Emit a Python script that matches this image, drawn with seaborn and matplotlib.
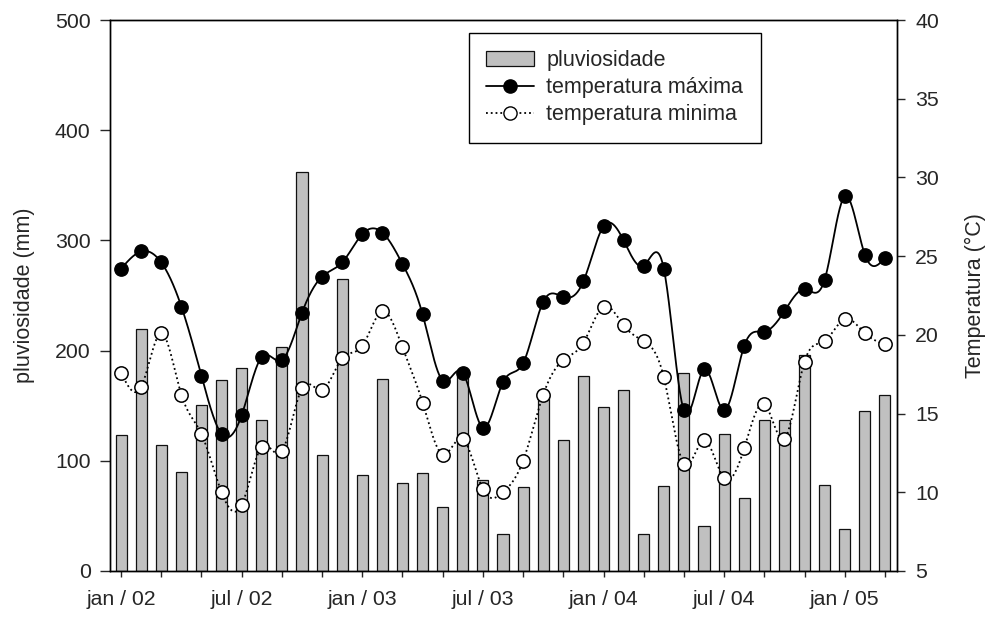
import numpy as np
import matplotlib
matplotlib.use("Agg")
import matplotlib.pyplot as plt
import seaborn as sns
from matplotlib.patches import Patch
from matplotlib.lines import Line2D

# Monthly series, Jan 2002 to Mar 2005
month_idx = list(range(39))

rain_mm = [123, 220, 114, 90, 151, 173, 184, 137, 203, 362, 105, 265, 87,
           174, 80, 89, 58, 178, 83, 34, 76, 160, 119, 177,
           149, 164, 34, 77, 180, 41, 124, 66, 137, 137, 196, 78,
           38, 145, 160]

temp_max = [24.2, 25.3, 24.6, 21.8, 17.4, 13.7, 14.9, 18.6, 18.4, 21.4, 23.7, 24.6, 26.4,
            26.5, 24.5, 21.3, 17.1, 17.6, 14.1, 17.0, 18.2, 22.1, 22.4, 23.4,
            26.9, 26.0, 24.4, 24.2, 15.2, 17.8, 15.2, 19.3, 20.2, 21.5, 22.9, 23.5,
            28.8, 25.1, 24.9]

temp_min = [17.6, 16.7, 20.1, 16.2, 13.7, 10.0, 9.2, 12.9, 12.6, 16.6, 16.5, 18.5, 19.3,
            21.5, 19.2, 15.7, 12.4, 13.4, 10.2, 10.0, 12.0, 16.2, 18.4, 19.5,
            21.8, 20.6, 19.6, 17.3, 11.8, 13.3, 10.9, 12.8, 15.6, 13.4, 18.3, 19.6,
            21.0, 20.1, 19.4]

tick_idx = [0, 6, 12, 18, 24, 30, 36]
tick_labels = ["jan / 02", "jul / 02", "jan / 03", "jul / 03",
               "jan / 04", "jul / 04", "jan / 05"]


def natural_spline(x, y, steps=24):
    """Smooth curve through (x, y) with a natural cubic spline."""
    x = np.asarray(x, float)
    y = np.asarray(y, float)
    n = len(x)
    h = np.diff(x)
    A = np.zeros((n, n))
    b = np.zeros(n)
    A[0, 0] = A[-1, -1] = 1.0
    for i in range(1, n - 1):
        A[i, i - 1] = h[i - 1]
        A[i, i] = 2 * (h[i - 1] + h[i])
        A[i, i + 1] = h[i]
        b[i] = 6 * ((y[i + 1] - y[i]) / h[i] - (y[i] - y[i - 1]) / h[i - 1])
    M = np.linalg.solve(A, b)
    xs, ys = [], []
    for i in range(n - 1):
        t = np.linspace(x[i], x[i + 1], steps, endpoint=(i == n - 2))
        a = x[i + 1] - t
        c = t - x[i]
        s = (M[i] * a ** 3 + M[i + 1] * c ** 3) / (6 * h[i]) \
            + (y[i] / h[i] - M[i] * h[i] / 6) * a \
            + (y[i + 1] / h[i] - M[i + 1] * h[i] / 6) * c
        xs.append(t)
        ys.append(s)
    return np.concatenate(xs), np.concatenate(ys)


sns.set_style("ticks")
plt.rcParams["font.family"] = ["Liberation Sans", "DejaVu Sans"]

W, H = 989, 618
fig = plt.figure(figsize=(W / 100, H / 100), dpi=100)
ax = fig.add_axes([110 / W, 1 - 571 / H, 787 / W, 551 / H])

# rainfall bars
sns.barplot(x=month_idx, y=rain_mm, ax=ax, color="#c0c0c0", saturation=1,
            width=0.55, edgecolor="#111111", linewidth=0.9)
ax.set_xlim(-0.55, 38.6)
ax.set_ylim(0, 500)
ax.set_yticks(range(0, 501, 100))
ax.set_xticks(range(0, 39, 2))
ax.set_xticklabels([tick_labels[tick_idx.index(i)] if i in tick_idx else ""
                    for i in range(0, 39, 2)])
ax.set_xlabel("")
ax.set_ylabel("pluviosidade (mm)", fontsize=15.5)
ax.yaxis.set_label_coords((35 - 110) / 787, 0.5)
ax.tick_params(axis="y", direction="out", length=7, width=1, labelsize=15.3, pad=7)
ax.tick_params(axis="x", direction="out", length=4.5, width=1, labelsize=15.3, pad=9)

# temperatures on the secondary axis
ax2 = ax.twinx()
xs, ys = natural_spline(month_idx, temp_max)
sns.lineplot(x=xs, y=ys, ax=ax2, color="black", linewidth=1.3, sort=False,
             estimator=None)
xs, ys = natural_spline(month_idx, temp_min)
sns.lineplot(x=xs, y=ys, ax=ax2, color="black", linewidth=1.3, sort=False,
             estimator=None, linestyle=":")
sns.scatterplot(x=month_idx, y=temp_max, ax=ax2, color="black",
                edgecolor="black", s=92, linewidth=1, zorder=5)
sns.scatterplot(x=month_idx, y=temp_min, ax=ax2, color="white",
                edgecolor="black", s=92, linewidth=1.1, zorder=5)
ax2.set_ylim(5, 40)
ax2.set_yticks(range(5, 41, 5))
ax2.set_ylabel("Temperatura (°C)", fontsize=15.5)
ax2.yaxis.set_label_coords((965 - 110) / 787, 0.5)
ax2.tick_params(axis="y", direction="out", length=6, width=1, labelsize=15.3, pad=7)

for a in (ax, ax2):
    for sp in a.spines.values():
        sp.set_visible(True)
        sp.set_linewidth(1.0)
        sp.set_color("black")

handles = [
    Patch(facecolor="#c0c0c0", edgecolor="#111111", linewidth=0.9),
    Line2D([], [], color="black", linewidth=1.3, marker="o", markersize=9.5,
           markerfacecolor="black", markeredgecolor="black"),
    Line2D([], [], color="black", linewidth=1.3, linestyle=":", marker="o",
           markersize=9.5, markerfacecolor="white", markeredgecolor="black"),
]
labels = ["pluviosidade", "temperatura máxima", "temperatura minima"]
leg = ax2.legend(handles, labels, loc="upper left",
                 bbox_to_anchor=(469 / W, 1 - 33 / H),
                 bbox_transform=fig.transFigure, borderaxespad=0,
                 fontsize=15.5, frameon=True, fancybox=False, framealpha=1,
                 edgecolor="black", handlelength=2.2, handletextpad=0.6,
                 labelspacing=0.28, borderpad=0.8)
leg.get_frame().set_linewidth(1.0)

fig.savefig("out.png", dpi=100)
